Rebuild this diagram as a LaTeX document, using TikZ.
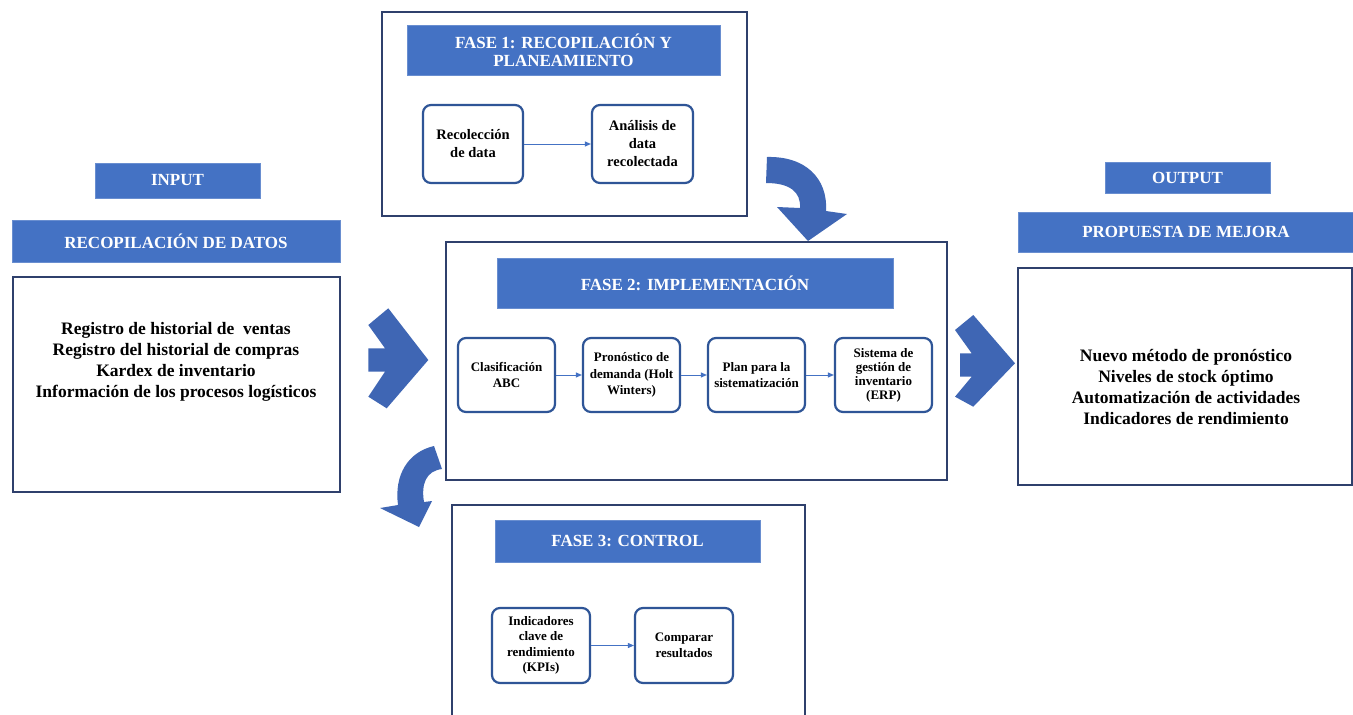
\documentclass[tikz,border=0pt]{standalone}
\usepackage{fontspec}
\setmainfont{Liberation Serif}
\usetikzlibrary{arrows.meta}
\definecolor{hdrblue}{HTML}{4472C4}
\definecolor{arrblue}{HTML}{3F66B4}
\definecolor{framecol}{HTML}{2F406C}
\definecolor{boxline}{HTML}{2F5597}
\definecolor{conncol}{HTML}{4472C4}
\tikzset{
  hdr/.style={fill=hdrblue, draw=hdrblue!80!white, line width=0.6pt, text=white,
    font=\bfseries\fontsize{17}{18}\selectfont, align=center, inner sep=0pt},
  frame/.style={draw=framecol, line width=1.8pt, fill=white, inner sep=0pt},
  stepbox/.style={draw=boxline, line width=2.2pt, rounded corners=8pt, fill=white,
    align=center, inner sep=1pt, minimum width=97pt, minimum height=74pt,
    font=\bfseries\fontsize{13}{15.5}\selectfont},
  bigtext/.style={align=center, inner sep=0pt, font=\bfseries\fontsize{17.5}{21}\selectfont},
  conn/.style={draw=conncol, line width=0.9pt, -{Triangle[length=6pt,width=5pt]}},
  bigarrow/.style={fill=arrblue, draw=none}
}
\begin{document}
\begin{tikzpicture}[x=1pt,y=-1pt]
\useasboundingbox (0,0) rectangle (1353,715);
\clip (0,0) rectangle (1353,715);
\fill[white] (0,0) rectangle (1353,715);

% INPUT side
\node[hdr, minimum width=165pt, minimum height=35pt] (inlbl) at (177.5,180.5) {INPUT};
\node[hdr, minimum width=328pt, minimum height=42pt] (recdat) at (176,241) {RECOPILACIÓN DE DATOS};
\node[frame, minimum width=327pt, minimum height=215pt] (leftbox) at (176.5,384.5) {};
\node[bigtext] (lefttext) at (176,362) {Registro de historial de\ \ ventas\\Registro del historial de compras\\Kardex de inventario\\Información de los procesos logísticos};

% OUTPUT side
\node[hdr, minimum width=165pt, minimum height=31pt] (outlbl) at (1187.5,177.5) {OUTPUT};
\node[hdr, minimum width=336pt, minimum height=40pt] (propuesta) at (1186,232) {PROPUESTA DE MEJORA};
\node[frame, minimum width=334pt, minimum height=217pt] (rightbox) at (1185,376.5) {};
\node[bigtext] (righttext) at (1186,387) {Nuevo método de pronóstico\\Niveles de stock óptimo\\Automatización de actividades\\Indicadores de rendimiento};

% FASE 1
\node[frame, minimum width=365pt, minimum height=204pt] (f1) at (564.5,114) {};
\node[hdr, minimum width=313pt, minimum height=50pt] (f1h) at (563.5,50) {FASE 1: RECOPILACIÓN Y\\PLANEAMIENTO};
\node[stepbox, minimum width=100pt, minimum height=78pt, font=\bfseries\fontsize{14.5}{18}\selectfont] (recol) at (473,144) {Recolección\\de data};
\node[stepbox, minimum width=101pt, minimum height=78pt, font=\bfseries\fontsize{14.5}{18}\selectfont] (anal) at (642.5,144) {Análisis de\\data\\recolectada};
\draw[conn] (recol) -- (anal);

% FASE 2
\node[frame, minimum width=501pt, minimum height=238pt] (f2) at (696.5,361) {};
\node[hdr, minimum width=396pt, minimum height=50pt] (f2h) at (695,283) {FASE 2: IMPLEMENTACIÓN};
\node[stepbox] (clas) at (506.5,375) {Clasificación\\ABC};
\node[stepbox, font=\bfseries\fontsize{13}{16.5}\selectfont] (pron) at (631.5,375) {Pronóstico de\\demanda (Holt\\Winters)};
\node[stepbox] (plan) at (756.5,375) {Plan para la\\sistematización};
\node[stepbox, font=\bfseries\fontsize{13}{14}\selectfont] (sist) at (883.5,375) {Sistema de\\gestión de\\inventario\\(ERP)};
\draw[conn] (clas) -- (pron);
\draw[conn] (pron) -- (plan);
\draw[conn] (plan) -- (sist);

% FASE 3
\node[frame, minimum width=353pt, minimum height=225pt] (f3) at (628.5,617.5) {};
\node[hdr, minimum width=265pt, minimum height=42pt] (f3h) at (627.5,541) {FASE 3: CONTROL};
\node[stepbox, minimum width=98pt, minimum height=75pt] (kpi) at (541,645.5) {Indicadores\\clave de\\rendimiento\\(KPIs)};
\node[stepbox, minimum width=98pt, minimum height=75pt] (comp) at (684,645.5) {Comparar\\resultados};
\draw[conn] (kpi) -- (comp);

% chevrons
\fill[bigarrow] (368.3,325) -- (388.3,308.3) -- (428.3,360) -- (386.7,408.3) -- (368.3,396.7)
  -- (385,371.7) -- (368.3,371.7) -- (368.3,348.3) -- (385,348.3) -- cycle;
\fill[bigarrow] (955,330) -- (973.3,315) -- (1015,363.3) -- (973.3,406.7) -- (955,396.7)
  -- (971.7,376.7) -- (960,376.7) -- (960,353.3) -- (971.7,353.3) -- cycle;

% curved arrows
\fill[bigarrow] (767,157) .. controls (805,156) and (828,178) .. (826,211) -- (847,214)
  -- (808,241) -- (777,207) -- (800,208) .. controls (801,192) and (790,183) .. (766,183) -- cycle;
\fill[bigarrow] (434,446) .. controls (408,452) and (394,475) .. (398,505) -- (380,508)
  -- (419,527) -- (432,501) -- (424,502) .. controls (421,484) and (426,471) .. (442,469) -- cycle;
\end{tikzpicture}
\end{document}
